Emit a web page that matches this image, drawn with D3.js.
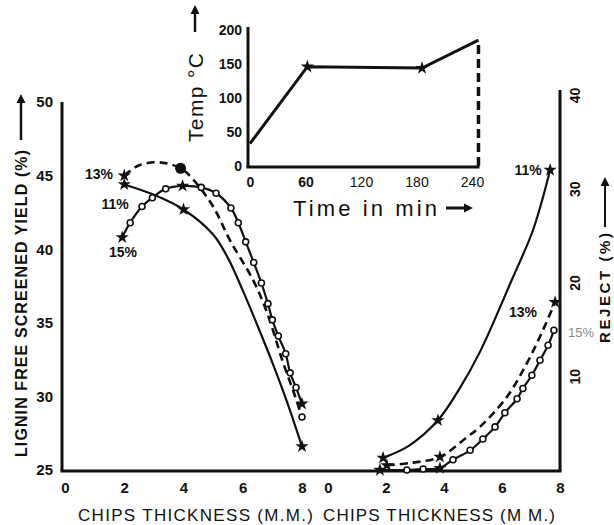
<!DOCTYPE html>
<html>
<head>
<meta charset="utf-8">
<script src="https://cdn.jsdelivr.net/npm/d3@7"></script>
<style>
  body { margin: 0; background: #fff; }
  text { font-family: "Liberation Sans", Arial, sans-serif; fill: #111; }
</style>
</head>
<body>
<div id="chart"></div>
<script>
// Left panel: lignin free screened yield (%) vs chips thickness (mm)
const yieldThick11 = [2, 3, 4, 5, 5.5, 6, 6.5, 7, 7.5, 8];
const yield11 = [44.4, 43.7, 42.7, 41.0, 39.4, 37.2, 34.8, 32.3, 29.6, 26.6];
const yieldThick13 = [2, 2.5, 3.2, 3.9, 4.3, 5.0, 5.57, 6.35, 6.82, 7.36, 7.7, 8.0];
const yield13 = [45.0, 45.7, 45.9, 45.5, 44.8, 42.9, 40.6, 37.9, 35.7, 32.3, 30.4, 28.6];
const yieldThick15 = [1.93, 2.2, 2.6, 2.95, 3.4, 3.97, 4.6, 5.1, 5.6, 5.85, 6.1, 6.37, 6.63, 6.85, 7.0, 7.2, 7.45, 7.6, 7.8, 8.0];
const yield15 = [40.8, 41.8, 42.9, 43.5, 44.1, 44.3, 44.2, 43.8, 42.8, 41.8, 40.5, 39.1, 37.7, 36.3, 35.2, 34.1, 32.9, 31.6, 30.6, 29.5];

// Right panel: reject (%) vs chips thickness (mm)
const rejThick11 = [1.9, 2.8, 3.79, 4.5, 5.24, 6.34, 7.07, 7.66];
const reject11 = [1.3, 2.6, 5.3, 8.5, 12.6, 20.3, 25.6, 32.0];
const rejThick13 = [2.03, 2.83, 3.86, 4.79, 5.24, 6.17, 6.86, 7.41, 7.83];
const reject13 = [0.5, 0.75, 1.4, 3.5, 4.6, 7.8, 11.4, 14.9, 17.9];
const rejThick15 = [1.79, 2.72, 3.28, 3.86, 4.31, 4.9, 5.34, 5.76, 6.1, 6.52, 6.72, 7.03, 7.31, 7.59, 7.79];
const reject15 = [0, 0, 0.1, 0.2, 1.1, 2.1, 3.3, 4.6, 6.1, 7.6, 8.7, 10.1, 11.7, 13.3, 14.9];

// Inset: cooking temperature schedule
const cookTime = [0, 62, 186, 247];
const cookTemp = [33, 146, 144, 185];

// Tick labels
const yieldTicks = [25, 30, 35, 40, 45, 50];
const thickTicks = [0, 2, 4, 6, 8];
const rejectTicks = [10, 20, 30, 40];
const tempTicks = [0, 50, 100, 150, 200];
const timeTicks = [0, 60, 120, 180, 240];

const width = 614;
const height = 525;

const svg = d3.select("#chart")
    .append("svg")
    .attr("width", width)
    .attr("height", height);

// Scales
const xL = d3.scaleLinear().domain([0, 8]).range([65, 302]);
const yL = d3.scaleLinear().domain([25, 50]).range([470, 102]);
const xR = d3.scaleLinear().domain([0, 8]).range([328, 560]);
const yR = d3.scaleLinear().domain([0, 40]).range([470, 95]);
const xT = d3.scaleLinear().domain([0, 240]).range([250, 472]);
const yT = d3.scaleLinear().domain([0, 200]).range([166, 30]);

const axisW = 3;

// Main axis lines
svg.append("line")
    .attr("x1", xL(0) - 3).attr("x2", xL(0) - 3)
    .attr("y1", yL(50)).attr("y2", yL(25) + 1)
    .attr("stroke", "#111").attr("stroke-width", axisW);
svg.append("line")
    .attr("x1", xL(0) - 4.5).attr("x2", xR(8) + 1.5)
    .attr("y1", yL(25) + 1).attr("y2", yL(25) + 1)
    .attr("stroke", "#111").attr("stroke-width", axisW);
svg.append("line")
    .attr("x1", xR(8)).attr("x2", xR(8))
    .attr("y1", yR(40) - 5).attr("y2", yR(0) + 1)
    .attr("stroke", "#111").attr("stroke-width", axisW);

// Left y axis ticks
const gYL = svg.append("g")
    .attr("transform", `translate(${xL(0) - 3},0)`)
    .call(d3.axisLeft(yL).tickValues(yieldTicks).tickSize(0).tickPadding(9));
gYL.select(".domain").remove();
gYL.selectAll("text")
    .style("font-family", "'Liberation Sans', Arial, sans-serif")
    .style("font-size", "15px").style("font-weight", "bold").attr("fill", "#111");

// Bottom x axes (both panels)
[xL, xR].forEach(sc => {
    const g = svg.append("g")
        .attr("transform", `translate(0,${yL(25) + 1})`)
        .call(d3.axisBottom(sc).tickValues(thickTicks).tickSize(0).tickPadding(11));
    g.select(".domain").remove();
    g.selectAll("text")
        .style("font-family", "'Liberation Sans', Arial, sans-serif")
        .style("font-size", "15px").style("font-weight", "bold").attr("fill", "#111");
});

// Right y axis ticks (rotated)
const gYR = svg.append("g")
    .attr("transform", `translate(${xR(8)},0)`)
    .call(d3.axisRight(yR).tickValues(rejectTicks).tickSize(0));
gYR.select(".domain").remove();
gYR.selectAll("text")
    .attr("x", 0).attr("dy", 0)
    .attr("text-anchor", "middle")
    .attr("transform", "translate(20,0) rotate(-90)")
    .style("font-family", "'Liberation Sans', Arial, sans-serif")
    .style("font-size", "14px").style("font-weight", "bold").attr("fill", "#222");

// Axis titles
svg.append("text")
    .attr("transform", "translate(27,457) rotate(-90)")
    .attr("textLength", 307).attr("lengthAdjust", "spacing")
    .style("font-size", "16px").style("font-weight", "bold")
    .text("LIGNIN FREE SCREENED YIELD (%)");
svg.append("text")
    .attr("transform", "translate(610,343) rotate(-90)")
    .attr("textLength", 110).attr("lengthAdjust", "spacing")
    .style("font-size", "15px").style("font-weight", "bold")
    .text("REJECT (%)");
svg.append("text")
    .attr("x", 78).attr("y", 521)
    .attr("textLength", 235).attr("lengthAdjust", "spacing")
    .style("font-size", "17px")
    .text("CHIPS THICKNESS (M.M.)");
svg.append("text")
    .attr("x", 323).attr("y", 521)
    .attr("textLength", 232).attr("lengthAdjust", "spacing")
    .style("font-size", "17px")
    .text("CHIPS THICKNESS (M M.)");

// Arrows next to titles
function arrow(x1, y1, x2, y2, w) {
    const a = Math.atan2(y2 - y1, x2 - x1);
    const h = 9, s = 4.5;
    svg.append("line")
        .attr("x1", x1).attr("y1", y1)
        .attr("x2", x2 - Math.cos(a) * h * 0.6).attr("y2", y2 - Math.sin(a) * h * 0.6)
        .attr("stroke", "#111").attr("stroke-width", w);
    const p1 = [x2 - Math.cos(a) * h - Math.sin(a) * s, y2 - Math.sin(a) * h + Math.cos(a) * s];
    const p2 = [x2 - Math.cos(a) * h + Math.sin(a) * s, y2 - Math.sin(a) * h - Math.cos(a) * s];
    svg.append("path")
        .attr("d", `M${x2},${y2}L${p1}L${p2}Z`)
        .attr("fill", "#111");
}
arrow(21, 140, 21, 94, 2.5);
arrow(605, 227, 605, 177, 2);
arrow(195, 32, 195, 5, 2.5);
arrow(446, 208, 473, 208, 3);

// Inset axes
svg.append("line")
    .attr("x1", xT(0) - 2).attr("x2", xT(0) - 2)
    .attr("y1", yT(200) - 3).attr("y2", yT(0) + 1)
    .attr("stroke", "#111").attr("stroke-width", axisW);
svg.append("line")
    .attr("x1", xT(0) - 3.5).attr("x2", xT(cookTime[cookTime.length - 1]) + 1)
    .attr("y1", yT(0) + 1).attr("y2", yT(0) + 1)
    .attr("stroke", "#111").attr("stroke-width", axisW);

const gYT = svg.append("g")
    .attr("transform", `translate(${xT(0) - 2},0)`)
    .call(d3.axisLeft(yT).tickValues(tempTicks).tickSize(0).tickPadding(6));
gYT.select(".domain").remove();
gYT.selectAll("text")
    .style("font-family", "'Liberation Sans', Arial, sans-serif")
    .style("font-size", "14px").style("font-weight", "bold").attr("fill", "#111");

const gXT = svg.append("g")
    .attr("transform", `translate(0,${yT(0) + 1})`)
    .call(d3.axisBottom(xT).tickValues(timeTicks).tickSize(0).tickPadding(10));
gXT.select(".domain").remove();
gXT.selectAll("text")
    .style("font-family", "'Liberation Sans', Arial, sans-serif")
    .style("font-size", "14px").attr("fill", "#111");
gXT.selectAll("text").filter(d => d === 0 || d === 60).style("font-weight", "bold");

svg.append("text")
    .attr("transform", "translate(203,142) rotate(-90)")
    .attr("textLength", 89).attr("lengthAdjust", "spacing")
    .style("font-size", "21px")
    .text("Temp °C");
svg.append("text")
    .attr("x", 293).attr("y", 216)
    .attr("textLength", 144).attr("lengthAdjust", "spacing")
    .style("font-size", "22px")
    .text("Time in min");

const star = d3.symbol().type(d3.symbolStar).size(55);

// Temperature line
const tempPts = cookTime.map((t, i) => [t, cookTemp[i]]);
svg.append("path")
    .datum(tempPts)
    .attr("fill", "none").attr("stroke", "#111").attr("stroke-width", 3)
    .attr("d", d3.line().x(d => xT(d[0])).y(d => yT(d[1])));
svg.selectAll(".tstar")
    .data(tempPts.slice(1, 3))
    .enter()
    .append("path")
    .attr("d", star)
    .attr("transform", d => `translate(${xT(d[0])},${yT(d[1])})`)
    .attr("fill", "#111");
const lastT = tempPts[tempPts.length - 1];
svg.append("line")
    .attr("x1", xT(lastT[0])).attr("x2", xT(lastT[0]))
    .attr("y1", yT(0)).attr("y2", yT(lastT[1]))
    .attr("stroke", "#111").attr("stroke-width", 3.5)
    .attr("stroke-dasharray", "9,5");

// Series drawing
function drawSeries(xs, ys, sx, sy, opt) {
    const pts = xs.map((x, i) => [x, ys[i]]);
    svg.append("path")
        .datum(pts)
        .attr("fill", "none")
        .attr("stroke", "#111")
        .attr("stroke-width", opt.width || 2.2)
        .attr("stroke-dasharray", opt.dash || null)
        .attr("d", d3.line().curve(d3.curveCatmullRom.alpha(0.5)).x(d => sx(d[0])).y(d => sy(d[1])));
    pts.forEach((d, i) => {
        const cx = sx(d[0]), cy = sy(d[1]);
        if ((opt.stars || []).includes(i)) {
            svg.append("path").attr("d", star)
                .attr("transform", `translate(${cx},${cy})`)
                .attr("fill", "#111");
        } else if ((opt.dots || []).includes(i)) {
            svg.append("circle").attr("cx", cx).attr("cy", cy).attr("r", 5.5)
                .attr("fill", "#111");
        } else if (opt.circles === "all" || (opt.circles || []).includes(i)) {
            svg.append("circle").attr("cx", cx).attr("cy", cy).attr("r", 3)
                .attr("fill", "#fff").attr("stroke", "#111").attr("stroke-width", 1.6);
        }
    });
}

// Left panel curves
drawSeries(yieldThick11, yield11, xL, yL, { stars: [0, 2, 9] });
drawSeries(yieldThick13, yield13, xL, yL, { dash: "8,5", width: 2.6, stars: [0], dots: [3], circles: [11] });
drawSeries(yieldThick15, yield15, xL, yL, { stars: [0, 5, 19], circles: "all" });

// Right panel curves
drawSeries(rejThick11, reject11, xR, yR, { stars: [0, 2, 7] });
drawSeries(rejThick13, reject13, xR, yR, { dash: "8,5", width: 2.6, stars: [0, 2, 8] });
drawSeries(rejThick15, reject15, xR, yR, { stars: [0, 3], circles: "all" });

// Series labels
const lbl = (x, y, t, color, size, weight) => svg.append("text")
    .attr("x", x).attr("y", y)
    .attr("text-anchor", "middle")
    .style("font-size", size + "px").style("font-weight", weight)
    .style("fill", color)
    .text(t);
lbl(99, 179, "13%", "#111", 14, "bold");
lbl(115, 209, "11%", "#111", 14, "bold");
lbl(123, 257, "15%", "#111", 14, "bold");
lbl(528, 175, "11%", "#111", 14, "bold");
lbl(523, 317, "13%", "#111", 14, "bold");
lbl(581, 337, "15%", "#888", 13, "normal");
</script>
</body>
</html>
